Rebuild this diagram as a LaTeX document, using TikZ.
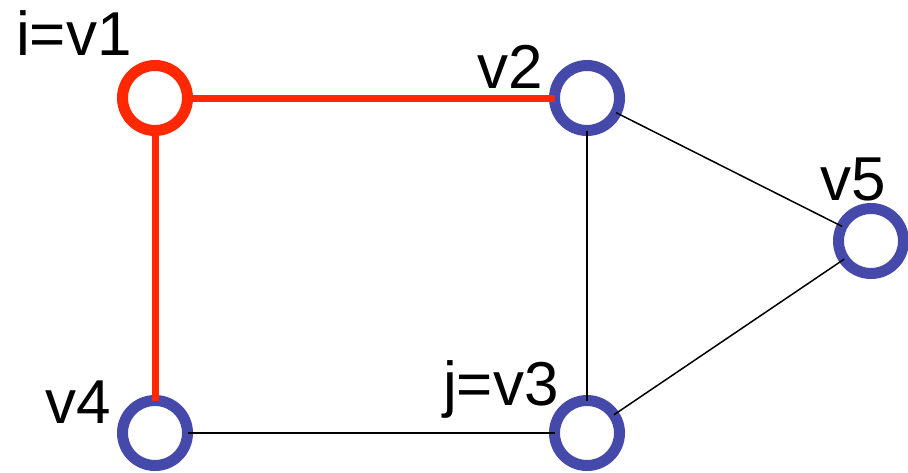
\documentclass[tikz,border=0pt]{standalone}
\usepackage{fontspec}
\setmainfont{Liberation Sans}
\definecolor{pathred}{RGB}{255,40,0}
\definecolor{nodeblue}{RGB}{68,73,170}
\tikzset{
    vertex/.style={circle, draw=nodeblue, line width=11pt, minimum size=65pt, inner sep=0pt, outer sep=0pt},
    lbl/.style={inner sep=0pt, anchor=base west, font=\fontsize{62}{70}\selectfont},
    edge/.style={black, line width=1.5pt},
    pathedge/.style={pathred, line width=7pt}
}
\begin{document}
\begin{tikzpicture}[x=1pt, y=-1pt]
    \useasboundingbox (0,0) rectangle (908,472);

    % Vertices
    \node[vertex, draw=pathred] (v1) at (155, 98) {};
    \node[vertex] (v2) at (587, 98) {};
    \node[vertex] (v3) at (587, 433) {};
    \node[vertex] (v4) at (155, 433) {};
    \node[vertex] (v5) at (871, 241) {};

    % Labels
    \node[lbl] (l1) at (16, 55) {i=v1};
    \node[lbl] (l2) at (477, 88) {v2};
    \node[lbl] (l3) at (443, 405) {j=v3};
    \node[lbl] (l4) at (45, 423) {v4};
    \node[lbl] (l5) at (820, 200) {v5};

    % Edges
    \draw[edge] (v2) -- (v3);
    \draw[edge] (v2) -- (v5);
    \draw[edge] (v3) -- (v5);
    \draw[edge] (v4) -- (v3);

    % Path i -> j
    \draw[pathedge] (v1) -- (v2);
    \draw[pathedge] (v1) -- (v4);
\end{tikzpicture}
\end{document}
